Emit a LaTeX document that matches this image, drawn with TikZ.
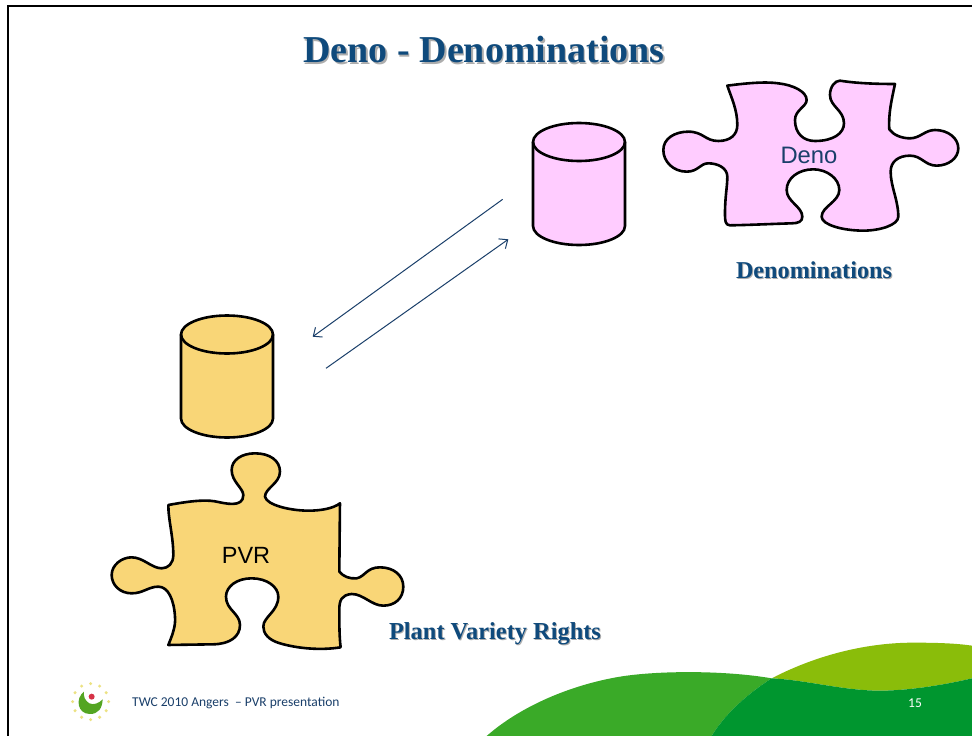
\documentclass[tikz,border=0pt]{standalone}
\usepackage{fontspec}
\setmainfont{Liberation Serif}
\setsansfont{Liberation Sans}
\newfontfamily\footfont{Carlito}
\usepackage{tikz}
\usetikzlibrary{positioning,arrows.meta}
\pgfdeclarelayer{backlayer}
\pgfdeclarelayer{shadowlayer}
\pgfsetlayers{backlayer,shadowlayer,main}
\definecolor{headblue}{HTML}{0F4A7C}
\definecolor{navy}{HTML}{1A3F6A}
\definecolor{denopink}{HTML}{FFCCFF}
\definecolor{pvryellow}{HTML}{F9D677}
\tikzset{>={Straight Barb[length=7pt,width=12pt]}}
\tikzset{
  db/.style={minimum width=92pt,minimum height=122pt,inner sep=0pt,outer sep=0pt},
  piece/.style={draw=black,line width=2.6pt,line join=round},
  heading/.style={font=\bfseries,text=headblue,inner sep=0pt},
  headshadow/.style={font=\bfseries,text=black!32,inner sep=0pt},
  link/.style={->,draw=navy,line width=1pt},
}
% can drawn over a named node
\newcommand{\drawcan}[2]{
  \draw[piece,fill=#2] ([yshift=-19pt]#1.north west) -- ([yshift=19pt]#1.south west)
    arc[start angle=180,end angle=360,x radius=46pt,y radius=19pt]
    -- ([yshift=-19pt]#1.north east)
    arc[start angle=0,end angle=180,x radius=46pt,y radius=19pt] -- cycle;
  \draw[piece] ([yshift=-19pt]#1.north west)
    arc[start angle=180,end angle=360,x radius=46pt,y radius=19pt];
}
\begin{document}
\begin{tikzpicture}[x=1pt,y=-1pt]
  \useasboundingbox (0,0) rectangle (972,736);
  \begin{pgfonlayer}{backlayer}
    \fill[white] (0,0) rectangle (972,736);
  \end{pgfonlayer}

  % Frame
  \draw[line width=2pt] (8,736) -- (8,6) -- (972,6);

  % Hills
  \begin{scope}[shift={(470,630)},x=0.3333pt,y=-0.3333pt]
    \fill[color={rgb,255:red,138;green,189;blue,10}] (905,145) .. controls (1050,70) and (1200,38) .. (1330,38)
      .. controls (1400,38) and (1460,40) .. (1506,47) -- (1506,145)
      .. controls (1400,170) and (1300,182) .. (1230,182)
      .. controls (1120,182) and (1010,150) .. (905,145) -- cycle;
    \fill[color={rgb,255:red,58;green,170;blue,40}] (50,318) .. controls (150,230) and (300,165) .. (450,140)
      .. controls (560,122) and (760,120) .. (905,145)
      .. controls (820,200) and (760,260) .. (725,318) -- cycle;
    \fill[color={rgb,255:red,0;green,150;blue,47}] (725,318) .. controls (760,260) and (820,200) .. (905,145)
      .. controls (1010,150) and (1120,182) .. (1230,182)
      .. controls (1300,182) and (1400,170) .. (1506,145) -- (1506,318) -- cycle;
  \end{scope}

  % Logo
  \begin{scope}[shift={(0,640)},x=0.3333pt,y=-0.3333pt]
    \foreach \ang in {0,30,...,330}
      \fill[color={rgb,255:red,236;green,226;blue,130}] (272,185) ++(\ang:-54) circle (5);
    \fill[color={rgb,255:red,84;green,165;blue,34}] (252,155) .. controls (225,175) and (232,222) .. (270,222)
      .. controls (295,222) and (307,205) .. (308,178)
      .. controls (297,190) and (280,196) .. (268,190)
      .. controls (255,182) and (250,170) .. (252,155) -- cycle;
    \fill[color={rgb,255:red,214;green,50;blue,70}] (275,170) circle (9);
  \end{scope}

  % Puzzle pieces
  \begin{scope}[shift={(650,70)},x=0.3333pt,y=-0.3333pt]
    \draw[piece,fill=denopink] (232,47) .. controls (300,38) and (350,35) .. (385,40)
      .. controls (430,45) and (470,65) .. (470,90)
      .. controls (470,110) and (435,120) .. (435,150)
      .. controls (435,190) and (460,213) .. (495,213)
      .. controls (550,213) and (582,190) .. (582,160)
      .. controls (582,120) and (540,110) .. (540,75)
      .. controls (540,50) and (555,32) .. (570,32)
      .. controls (620,40) and (680,42) .. (735,42)
      .. controls (725,90) and (715,130) .. (718,178)
      .. controls (730,195) and (755,205) .. (780,205)
      .. controls (810,205) and (825,180) .. (855,180)
      .. controls (895,180) and (925,205) .. (925,235)
      .. controls (925,265) and (895,287) .. (860,287)
      .. controls (825,287) and (815,257) .. (780,257)
      .. controls (745,257) and (722,275) .. (722,305)
      .. controls (722,350) and (745,390) .. (745,440)
      .. controls (745,465) and (690,482) .. (640,482)
      .. controls (580,482) and (515,465) .. (515,440)
      .. controls (515,410) and (568,395) .. (568,360)
      .. controls (568,325) and (530,298) .. (490,298)
      .. controls (445,298) and (410,325) .. (410,360)
      .. controls (410,395) and (457,410) .. (457,440)
      .. controls (457,455) and (445,460) .. (425,460)
      .. controls (360,462) and (300,465) .. (240,466)
      .. controls (225,466) and (225,450) .. (225,430)
      .. controls (225,380) and (232,350) .. (232,320)
      .. controls (232,295) and (205,280) .. (175,280)
      .. controls (150,280) and (145,305) .. (110,305)
      .. controls (70,305) and (40,275) .. (40,240)
      .. controls (40,205) and (75,185) .. (115,185)
      .. controls (160,185) and (165,213) .. (205,213)
      .. controls (240,213) and (262,195) .. (262,165)
      .. controls (262,120) and (245,85) .. (232,47) -- cycle;
  \end{scope}
  \begin{scope}[shift={(100,440)},x=0.3333pt,y=-0.3333pt]
    \draw[piece,fill=pvryellow] (205,195) .. controls (260,185) and (310,178) .. (345,184)
      .. controls (375,190) and (430,205) .. (430,165)
      .. controls (430,145) and (395,125) .. (395,90)
      .. controls (395,60) and (425,40) .. (465,40)
      .. controls (510,40) and (540,62) .. (540,95)
      .. controls (540,130) and (495,145) .. (495,170)
      .. controls (500,195) and (570,212) .. (625,212)
      .. controls (665,212) and (700,205) .. (720,190)
      -- (718,395)
      .. controls (730,410) and (750,417) .. (770,415)
      .. controls (795,410) and (800,382) .. (840,382)
      .. controls (880,382) and (910,405) .. (910,440)
      .. controls (910,475) and (885,497) .. (850,497)
      .. controls (815,497) and (790,462) .. (755,462)
      .. controls (725,465) and (718,480) .. (718,510)
      .. controls (718,550) and (718,590) .. (722,622)
      .. controls (660,632) and (590,625) .. (540,610)
      .. controls (505,600) and (490,580) .. (490,560)
      .. controls (490,530) and (535,515) .. (535,470)
      .. controls (535,440) and (500,415) .. (455,415)
      .. controls (410,415) and (378,440) .. (378,470)
      .. controls (378,510) and (420,520) .. (420,555)
      .. controls (420,590) and (390,612) .. (340,613)
      -- (205,615)
      .. controls (215,590) and (228,560) .. (225,530)
      .. controls (222,480) and (205,440) .. (175,440)
      .. controls (145,440) and (130,460) .. (95,460)
      .. controls (60,460) and (35,435) .. (35,405)
      .. controls (35,375) and (65,352) .. (95,352)
      .. controls (130,352) and (155,385) .. (185,385)
      .. controls (205,385) and (220,370) .. (220,345)
      .. controls (220,290) and (205,240) .. (205,195) -- cycle;
  \end{scope}

  % Nodes
  \node[db] (dbdeno) at (579,184)   {};
  \node[db] (dbpvr)  at (227,376.5) {};
  \drawcan{dbdeno}{denopink}
  \drawcan{dbpvr}{pvryellow}
  \node[font=\sffamily\fontsize{23.8}{26}\selectfont,text=navy,inner sep=0pt] (denotext) at (809,155) {Deno};
  \node[font=\sffamily\fontsize{23.5}{26}\selectfont,text=black,inner sep=0pt] (pvrtext) at (246,555) {PVR};
  \node[heading,font=\bfseries\fontsize{38}{40}\selectfont] (title) at (484,50) {Deno - Denominations};
  \node[heading,font=\bfseries\fontsize{24.2}{26}\selectfont,on grid,below right=115pt and 5pt of denotext] (denolabel) {Denominations};
  \node[heading,font=\bfseries\fontsize{24.4}{26}\selectfont,on grid,below right=79pt and 249pt of pvrtext] (pvrlabel) {Plant Variety Rights};
  \node[font=\footfont\fontsize{13.5}{15}\selectfont,text=navy,inner sep=0pt,anchor=west] (footer) at (132,703) {TWC 2010 Angers\ \ – PVR presentation};
  \node[font=\footfont\fontsize{13.5}{15}\selectfont,text=white,inner sep=0pt] (pageno) at (915,703) {15};
  \begin{pgfonlayer}{shadowlayer}
    \node[headshadow,font=\bfseries\fontsize{38}{40}\selectfont] (titleshadow) at ([shift={(1.5,1.5)}]title) {Deno - Denominations};
    \node[headshadow,font=\bfseries\fontsize{24.2}{26}\selectfont] (denoshadow) at ([shift={(1,1)}]denolabel) {Denominations};
    \node[headshadow,font=\bfseries\fontsize{24.4}{26}\selectfont] (pvrshadow) at ([shift={(1,1)}]pvrlabel) {Plant Variety Rights};
  \end{pgfonlayer}

  % Edges
  \coordinate (outa) at (502.7,199.3);
  \coordinate (outb) at (312.7,336.7);
  \coordinate (backa) at (326,368.3);
  \coordinate (backb) at (508.3,239.3);
  \draw[link] (outa) -- (outb);
  \draw[link] (backa) -- (backb);

\end{tikzpicture}
\end{document}
